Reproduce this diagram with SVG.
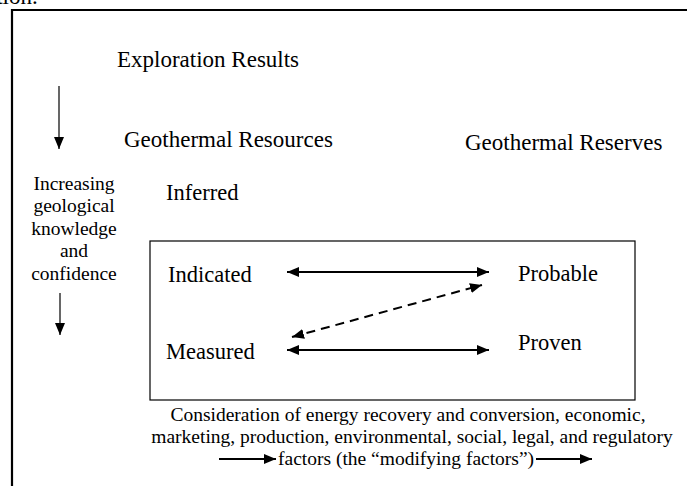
<svg xmlns="http://www.w3.org/2000/svg" width="687" height="486" viewBox="0 0 687 486">
  <style>
    text { font-family: "Liberation Serif", "Times New Roman", serif; fill: #000; }
    .h { font-size: 23px; }
    .n { font-size: 22.5px; }
    .s { font-size: 19.5px; }
    .c { text-anchor: middle; }
    .line { stroke: #000; stroke-width: 2; fill: none; }
    .thin { stroke: #000; stroke-width: 1.2; fill: none; }
    .dash { stroke: #000; stroke-width: 2; fill: none; stroke-dasharray: 9 6; }
  </style>
  <defs>
    <marker id="head" viewBox="0 0 12 10" refX="12" refY="5" markerWidth="12" markerHeight="10" markerUnits="userSpaceOnUse" orient="auto-start-reverse">
      <path d="M0,0 L12,5 L0,10 Z" fill="#000"/>
    </marker>
    <marker id="down" viewBox="0 0 10 12" refX="5" refY="12" markerWidth="10" markerHeight="12" markerUnits="userSpaceOnUse" orient="0">
      <path d="M0,0 L10,0 L5,12 Z" fill="#000"/>
    </marker>
  </defs>

  <rect width="687" height="486" fill="#fff"/>

  <!-- caption fragment above the figure -->
  <text class="h" x="-14" y="4">ation.</text>

  <!-- outer frame -->
  <path d="M12,490 L12,10 L690,10" stroke="#000" stroke-width="2.2" fill="none"/>

  <g id="exploration">
    <text class="h" x="117" y="67">Exploration Results</text>
  </g>
  <g id="resources">
    <text class="h" x="124" y="147">Geothermal Resources</text>
  </g>
  <g id="reserves">
    <text class="h" x="465" y="150">Geothermal Reserves</text>
  </g>
  <g id="confidence">
    <text class="s c" x="74" y="190">Increasing</text>
    <text class="s c" x="74" y="212">geological</text>
    <text class="s c" x="74" y="235">knowledge</text>
    <text class="s c" x="74" y="257">and</text>
    <text class="s c" x="74" y="280">confidence</text>
  </g>
  <g id="inferred">
    <text class="n" x="166" y="200">Inferred</text>
  </g>

  <g id="reserve-box">
    <rect x="150" y="241" width="485" height="159" fill="none" stroke="#000" stroke-width="1.2"/>
  </g>
  <g id="indicated">
    <text class="n" x="168" y="282">Indicated</text>
  </g>
  <g id="probable">
    <text class="n" x="518" y="281">Probable</text>
  </g>
  <g id="measured">
    <text class="n" x="166" y="359">Measured</text>
  </g>
  <g id="proven">
    <text class="n" x="518" y="350">Proven</text>
  </g>

  <g id="modifying-factors">
    <text class="s c" x="408" y="421">Consideration of energy recovery and conversion, economic,</text>
    <text class="s c" x="412" y="443">marketing, production, environmental, social, legal, and regulatory</text>
    <text class="s" x="278" y="465">factors (the “modifying factors”)</text>
  </g>

  <g id="connectors">
    <line class="thin" x1="59" y1="86" x2="59" y2="149" marker-end="url(#down)"/>
    <line class="thin" x1="60" y1="293" x2="60" y2="335" marker-end="url(#down)"/>
    <line class="line" x1="287" y1="272" x2="489" y2="272" marker-start="url(#head)" marker-end="url(#head)"/>
    <line class="line" x1="287" y1="350" x2="489" y2="350" marker-start="url(#head)" marker-end="url(#head)"/>
    <line class="dash" x1="292" y1="337" x2="482" y2="285" marker-start="url(#head)" marker-end="url(#head)"/>
    <line class="line" x1="219" y1="459" x2="276" y2="459" marker-end="url(#head)"/>
    <line class="line" x1="536" y1="459" x2="592" y2="459" marker-end="url(#head)"/>
  </g>
</svg>
